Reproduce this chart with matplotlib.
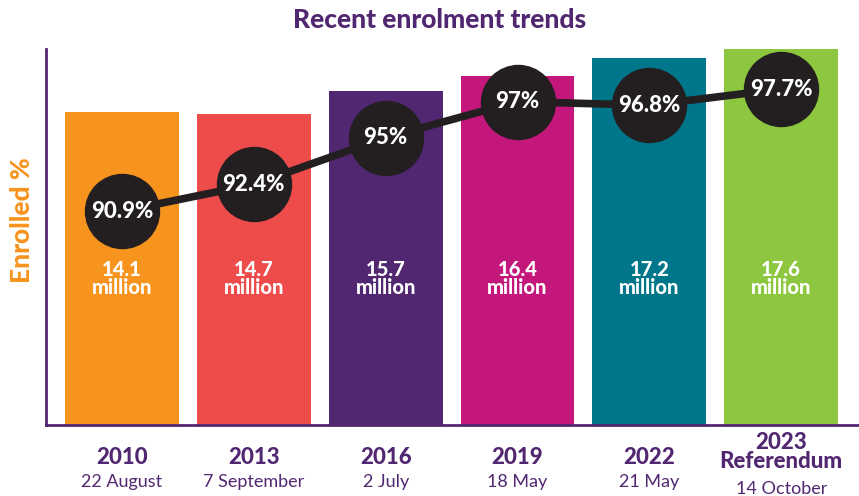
import matplotlib.pyplot as plt

plt.rcParams['font.family'] = ['Lato', 'DejaVu Sans']

# values
years = ["2010", "2013", "2016", "2019", "2022", "2023\nReferendum"]
dates = ["22 August", "7 September", "2 July", "18 May", "21 May", "14 October"]
enrolled_millions = ["14.1", "14.7", "15.7", "16.4", "17.2", "17.6"]
bar_heights = [83.2, 82.7, 88.8, 92.8, 97.6, 100.0]  # relative height, tallest = 100
enrolled_pct = [90.9, 92.4, 95.0, 97.0, 96.8, 97.7]
pct_labels = ["90.9%", "92.4%", "95%", "97%", "96.8%", "97.7%"]
bar_colors = ["#F7941E", "#EE4B4B", "#522772", "#C4177C", "#00768A", "#8DC63F"]

purple = "#522772"
dark = "#231F20"

fig = plt.figure(figsize=(8.59, 4.96), dpi=100)
ax = fig.add_axes([46 / 859, 71 / 496, 1 - 46 / 859, 376 / 496])

x = list(range(len(years)))
ax.bar(x, bar_heights, width=0.864, color=bar_colors, zorder=1)
ax.set_xlim(-0.576, 5.59)
ax.set_ylim(0, 100)

for s in ["top", "right"]:
    ax.spines[s].set_visible(False)
for s in ["left", "bottom"]:
    ax.spines[s].set_color(purple)
    ax.spines[s].set_linewidth(2)
ax.set_xticks([])
ax.set_yticks([])

# million labels inside bars
for xi, m in zip(x, enrolled_millions):
    ax.annotate(m + "\nmillion", xy=(xi, 0), xycoords=("data", "axes fraction"),
                xytext=(0, 119), textcoords="offset points", ha="center", va="top",
                color="white", fontsize=14.5, fontweight="black", linespacing=0.97)

# category labels below axis
for xi, yr, d in zip(x, years, dates):
    if "\n" in yr:
        ax.annotate(yr, xy=(xi, 0), xycoords=("data", "axes fraction"),
                    xytext=(0, -5), textcoords="offset points", ha="center", va="top",
                    color=purple, fontsize=16, fontweight="black", linespacing=0.9)
        ax.annotate(d, xy=(xi, 0), xycoords=("data", "axes fraction"),
                    xytext=(0, -40), textcoords="offset points", ha="center", va="top",
                    color=purple, fontsize=13)
    else:
        ax.annotate(yr, xy=(xi, 0), xycoords=("data", "axes fraction"),
                    xytext=(0, -16), textcoords="offset points", ha="center", va="top",
                    color=purple, fontsize=16, fontweight="black")
        ax.annotate(d, xy=(xi, 0), xycoords=("data", "axes fraction"),
                    xytext=(0, -35), textcoords="offset points", ha="center", va="top",
                    color=purple, fontsize=13)

# percentage line on a twin axis
ax2 = ax.twinx()
ax2.set_ylim(79.0, 99.93)
ax2.axis("off")
ax2.plot(x, enrolled_pct, color=dark, lw=5.5, zorder=2)
ax2.scatter(x, enrolled_pct, s=2840, color=dark, zorder=3)
for xi, p, lab in zip(x, enrolled_pct, pct_labels):
    ax2.text(xi, p, lab, ha="center", va="center", color="white",
             fontsize=16, fontweight="black", zorder=4)

fig.text(440 / 859, 1 - 20 / 496, "Recent enrolment trends", ha="center", va="center",
         color=purple, fontsize=19, fontweight="black")
fig.text(22 / 859, 1 - 220 / 496, "Enrolled %", ha="center", va="center", rotation=90,
         color="#F7941E", fontsize=19, fontweight="black")

plt.savefig("out.png", dpi=100)
